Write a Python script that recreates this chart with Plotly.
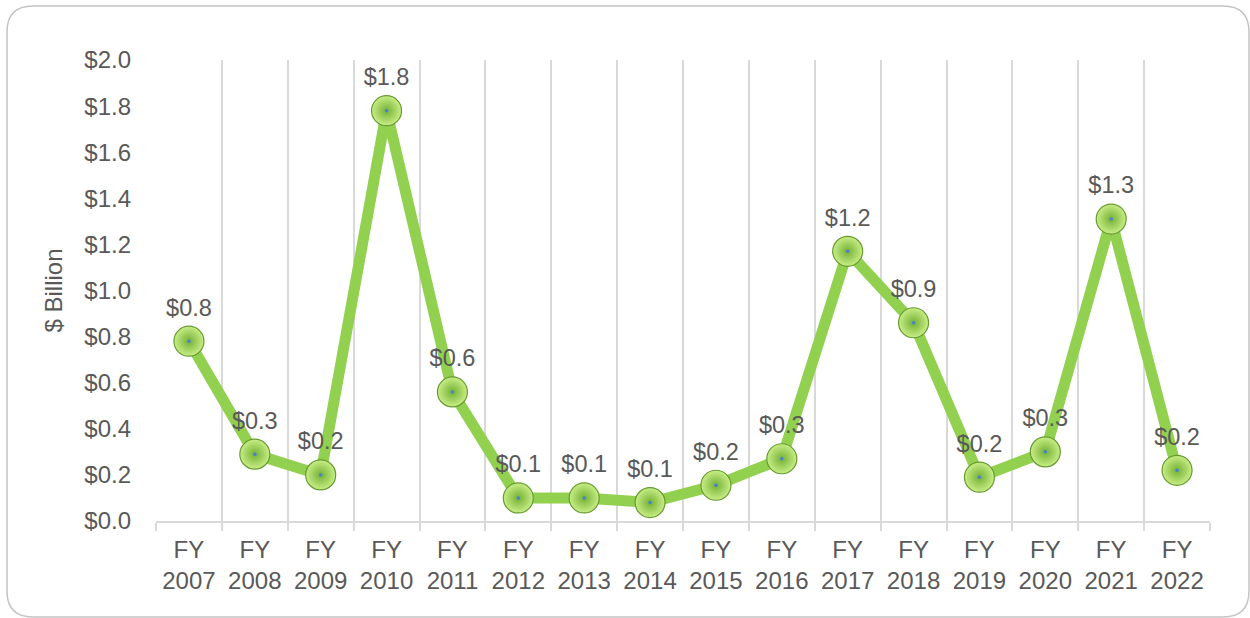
import plotly.graph_objects as go

years = ["2007", "2008", "2009", "2010", "2011", "2012", "2013", "2014",
         "2015", "2016", "2017", "2018", "2019", "2020", "2021", "2022"]
values = [0.78, 0.29, 0.20, 1.78, 0.56, 0.10, 0.10, 0.08,
          0.155, 0.27, 1.17, 0.86, 0.19, 0.30, 1.31, 0.22]
y_ticks = [0.0, 0.2, 0.4, 0.6, 0.8, 1.0, 1.2, 1.4, 1.6, 1.8, 2.0]

categories = ["FY<br>" + y for y in years]
labels = ["$%.1f" % v for v in values]

FONT = "Liberation Sans, Arial, sans-serif"
TXT = "#595959"

fig = go.Figure()
fig.add_trace(go.Scatter(
    x=categories, y=values, mode="lines+markers+text",
    line=dict(color="#92D050", width=11),
    marker=dict(size=30, color="#c8ee86",
                gradient=dict(type="radial", color="#74b034"),
                line=dict(color="#679a2f", width=1.2)),
    text=labels, textposition="top center",
    textfont=dict(family=FONT, size=23.5, color=TXT),
    cliponaxis=False, hoverinfo="skip", showlegend=False,
))
fig.add_trace(go.Scatter(
    x=categories, y=values, mode="markers",
    marker=dict(size=3.5, color="#4a7fd8"),
    hoverinfo="skip", showlegend=False, cliponaxis=False,
))

# rounded outer frame
x0, y0, x1, y1, r = 7, 6, 1249, 617, 26
W, H = 1250, 618
l, rgt, t, b = 156, 40, 60, 97
pw, ph = W - l - rgt, H - t - b

def px(x):
    return (x - l) / pw

def py(y):
    return (H - b - y) / ph

path = (f"M {px(x0 + r)},{py(y0)} L {px(x1 - r)},{py(y0)} "
        f"Q {px(x1)},{py(y0)} {px(x1)},{py(y0 + r)} "
        f"L {px(x1)},{py(y1 - r)} Q {px(x1)},{py(y1)} {px(x1 - r)},{py(y1)} "
        f"L {px(x0 + r)},{py(y1)} Q {px(x0)},{py(y1)} {px(x0)},{py(y1 - r)} "
        f"L {px(x0)},{py(y0 + r)} Q {px(x0)},{py(y0)} {px(x0 + r)},{py(y0)} Z")
fig.add_shape(type="path", path=path, xref="paper", yref="paper",
              line=dict(color="#c4c4c4", width=1.5), layer="below")

fig.update_layout(
    width=W, height=H,
    margin=dict(l=l, r=rgt, t=t, b=b),
    paper_bgcolor="white", plot_bgcolor="white",
    font=dict(family=FONT, size=24, color=TXT),
    xaxis=dict(
        type="category", tickson="boundaries",
        showgrid=True, gridcolor="#d9d9d9", gridwidth=2,
        showline=True, linecolor="#d9d9d9", linewidth=2,
        ticks="outside", ticklen=8, tickcolor="#d9d9d9", tickwidth=2,
        tickfont=dict(family=FONT, size=24, color=TXT),
        ticklabelstandoff=6,
        range=[-0.5, 15.5], zeroline=False,
    ),
    yaxis=dict(
        range=[0, 2.0], tickvals=y_ticks,
        ticktext=["$%.1f" % v for v in y_ticks],
        showgrid=False, zeroline=False, showline=False,
        tickfont=dict(family=FONT, size=24, color=TXT),
        ticks="", ticklen=0, ticklabelstandoff=24,
        title=dict(text="$ Billion", standoff=14,
                   font=dict(family=FONT, size=24, color=TXT)),
    ),
)

fig.write_html("out.html", config={"displayModeBar": False},
               post_script="document.body.style.margin='0';")
